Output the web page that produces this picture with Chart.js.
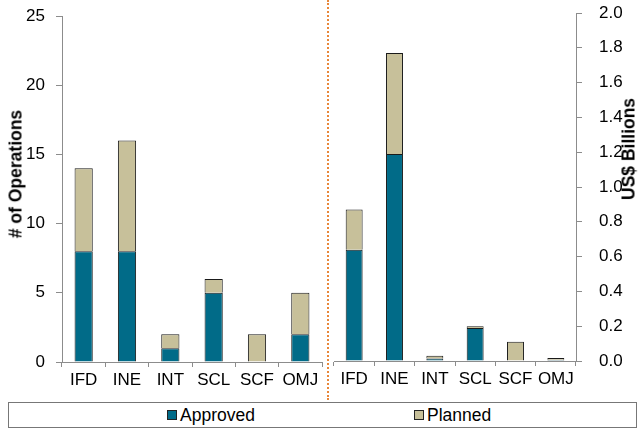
<!DOCTYPE html>
<html>
    <head>
        <meta charset="UTF-8">
        <title>Operations by Department</title>
        <script src="https://cdn.jsdelivr.net/npm/chart.js"></script>
        <style>
            body { margin: 0; background: #fff; font-family: "Liberation Sans", Arial, sans-serif; }
            #page { position: relative; width: 641px; height: 429px; overflow: hidden; }
            .chart_box { position: absolute; top: 0; height: 395px; }
            .axis_title { position: absolute; font-weight: bold; font-size: 17.5px; white-space: nowrap;
                          transform: translate(-50%, -50%) rotate(-90deg); color: #000; }
            #divider { position: absolute; left: 327px; top: 0; height: 400px; border-left: 2px dotted #e8873a; }
            #legend { position: absolute; left: 8px; top: 402px; width: 627px; height: 24px; border: 1px solid #777; }
            .legend_item { position: absolute; top: 3px; font-size: 17.5px; line-height: 18px; }
            .swatch { display: inline-block; width: 8px; height: 8px; border: 1px solid #222; margin-right: 3px; vertical-align: 1px; }
        </style>
    </head>
    <body>
        <div id="page">
            <div class="chart_box" style="left: 0; width: 326px;"><canvas id="ops_canvas"></canvas></div>
            <div class="chart_box" style="left: 326px; width: 315px;"><canvas id="usd_canvas"></canvas></div>
            <div id="divider"></div>
            <div class="axis_title" style="left: 16px; top: 174px;"># of Operations</div>
            <div class="axis_title" style="left: 629px; top: 149px;">US$ Billions</div>
            <div id="legend">
                <span class="legend_item" style="left: 158px;"><span class="swatch" style="background: #016b88;"></span>Approved</span>
                <span class="legend_item" style="left: 405px;"><span class="swatch" style="background: #c7c09a;"></span>Planned</span>
            </div>
        </div>

    <script>
//                                                              DATA
//---------------------------------------------------------------------------------------------------------------------------------------------------------
    const departments = ['IFD', 'INE', 'INT', 'SCL', 'SCF', 'OMJ'];

    const ops_approved = [8, 8, 1, 5, 0, 2];
    const ops_planned  = [6, 8, 1, 1, 2, 3];

    const usd_approved = [0.64, 1.19, 0.015, 0.19, 0, 0.007];
    const usd_planned  = [0.23, 0.58, 0.015, 0.01, 0.11, 0.01];

    const ops_ticks = { max: 25, step: 5 };
    const usd_ticks = { max: 2.0, step: 0.2 };

    const approved_color = '#016b88';
    const planned_color = '#c7c09a';
    const axis_color = '#8c8c8c';
    const tick_font = { family: 'Liberation Sans', size: 17 };

//                                                              CHART BUILDER
//---------------------------------------------------------------------------------------------------------------------------------------------------------
    function makeDatasets(approved, planned) {
        return [
            { label: 'Approved', data: approved, backgroundColor: approved_color, borderColor: '#1a1a1a', borderWidth: 1,
              barPercentage: 0.42, categoryPercentage: 1.0 },
            { label: 'Planned', data: planned, backgroundColor: planned_color, borderColor: '#1a1a1a', borderWidth: 1,
              barPercentage: 0.42, categoryPercentage: 1.0 },
        ];
    }

    function stackedChart(canvas_id, approved, planned, y_opts) {
        return new Chart(document.getElementById(canvas_id), {
            type: 'bar',
            data: { labels: departments, datasets: makeDatasets(approved, planned) },
            options: {
                responsive: true,
                maintainAspectRatio: false,
                animation: false,
                layout: { padding: y_opts.padding },
                plugins: { legend: { display: false }, tooltip: { enabled: false } },
                scales: {
                    x: {
                        stacked: true,
                        offset: true,
                        grid: { offset: true, drawOnChartArea: false, drawTicks: true, tickLength: 5, color: axis_color },
                        border: { color: axis_color, width: 1 },
                        ticks: { color: '#000', font: tick_font, padding: 3, autoSkip: false, maxRotation: 0 },
                        afterFit: (scale) => { scale.height = y_opts.xHeight; },
                    },
                    y: {
                        stacked: true,
                        position: y_opts.position,
                        min: 0,
                        max: y_opts.max,
                        grid: { drawOnChartArea: false, drawTicks: true, tickLength: 6, color: axis_color },
                        border: { color: axis_color, width: 1 },
                        ticks: { color: '#000', font: tick_font, padding: y_opts.labelPad, stepSize: y_opts.step,
                                 callback: y_opts.format },
                        afterFit: (scale) => {
                            scale.width = y_opts.yWidth;
                            // keep the label padding from pushing the plot top down
                            scale.paddingTop = 10;
                            scale.paddingBottom = 10;
                        },
                    },
                },
            },
        });
    }

    stackedChart('ops_canvas', ops_approved, ops_planned, {
        position: 'left', max: ops_ticks.max, step: ops_ticks.step,
        format: (v) => v, padding: { top: 16, right: 4, left: 0, bottom: 0 },
        xHeight: 33, yWidth: 62, labelPad: 11,
    });

    stackedChart('usd_canvas', usd_approved, usd_planned, {
        position: 'right', max: usd_ticks.max, step: usd_ticks.step,
        format: (v) => Number(v).toFixed(1), padding: { top: 13, right: 0, left: 8, bottom: 0 },
        xHeight: 34, yWidth: 65, labelPad: 17,
    });
    </script>
    </body>
</html>
